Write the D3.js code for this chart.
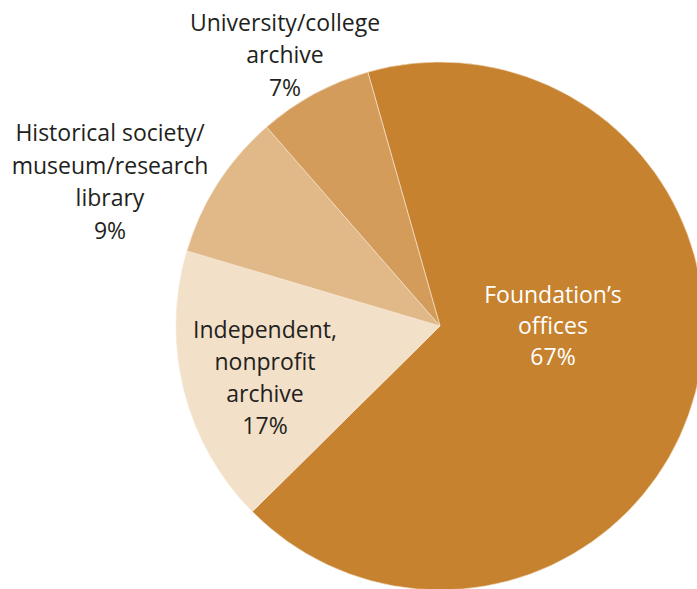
<!DOCTYPE html>
<html>
<head>
<meta charset="utf-8">
<script src="https://cdn.jsdelivr.net/npm/d3@7"></script>
<style>
  html, body { margin: 0; padding: 0; background: #fff; }
  svg { display: block; }
  text { font-family: "Open Sans", "Noto Sans", sans-serif; }
</style>
</head>
<body>
<svg id="chart" width="697" height="589"></svg>
<script>
const categories = ["Foundation\u2019s offices", "Independent, nonprofit archive", "Historical society/museum/research library", "University/college archive"];
const values = [67, 17, 9, 7];
const colors = ["#C6822E", "#F2E0C9", "#E1B887", "#D49C5A"];
const labelLines = [
  ["Foundation\u2019s", "offices", "67%"],
  ["Independent,", "nonprofit", "archive", "17%"],
  ["Historical society/", "museum/research", "library", "9%"],
  ["University/college", "archive", "7%"]
];
const textColors = ["#ffffff", "#231f20", "#231f20", "#231f20"];

const svg = d3.select("#chart");
const cx = 440, cy = 326, R = 264;
const g = svg.append("g").attr("transform", `translate(${cx},${cy})`);

const pie = d3.pie().sort(null).value(d => d)
  .startAngle(-0.277).endAngle(2 * Math.PI - 0.277);
const arcs = pie(values);
const arc = d3.arc().innerRadius(0).outerRadius(R);

g.selectAll("path").data(arcs).enter().append("path")
  .attr("d", arc)
  .attr("fill", (d, i) => colors[i])
  .attr("stroke", "#f6e9d8")
  .attr("stroke-width", 0.6);

const lineH = [31, 32, 32.5, 32.5];
const fixed = [[113, 0], [-175, 52], [-330, -144], [-155, -271]];

arcs.forEach((d, i) => {
  const [tx, ty] = fixed[i];
  const lines = labelLines[i];
  const t = g.append("text")
    .attr("text-anchor", "middle")
    .attr("font-size", 23)
    .attr("fill", textColors[i]);
  lines.forEach((ln, j) => {
    t.append("tspan")
      .attr("x", tx)
      .attr("y", ty + (j - (lines.length - 1) / 2) * lineH[i])
      .attr("dy", "0.35em")
      .text(ln);
  });
});
</script>
</body>
</html>
